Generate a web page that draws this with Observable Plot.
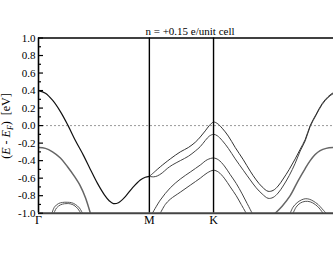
<!DOCTYPE html>
<html><head><meta charset="utf-8">
<script src="https://cdn.jsdelivr.net/npm/d3@7"></script>
<script src="https://cdn.jsdelivr.net/npm/@observablehq/plot@0.6"></script>
<style>body{margin:0;background:#fff}</style>
</head><body><div id="chart"></div>
<script>
// k-path positions (2π/a units): Γ, M, K, Γ
const kTicks = [0, 0.577, 0.911, 1.577];
const kLabels = ["Γ", "M", "K"];   // the closing Γ lies outside the visible window
const yTicks = [-1.0, -0.8, -0.6, -0.4, -0.2, 0.0, 0.2, 0.4, 0.6, 0.8, 1.0];
const yMinor = [-0.9, -0.7, -0.5, -0.3, -0.1, 0.1, 0.3, 0.5, 0.7, 0.9];
const title = "n = +0.15 e/unit cell";

// bands as [k, E-EF]
const bandT1 = [[0,0.40],[0.036,0.37],[0.073,0.29],[0.114,0.16],[0.154,0.0],[0.192,-0.17],[0.234,-0.34],[0.270,-0.50],[0.307,-0.66],[0.343,-0.79],[0.369,-0.86],[0.390,-0.89],[0.416,-0.88],[0.452,-0.81],[0.489,-0.71],[0.530,-0.62],[0.556,-0.59],[0.577,-0.58]];
const bandT2 = [[0,-0.25],[0.036,-0.26],[0.073,-0.30],[0.114,-0.37],[0.151,-0.47],[0.187,-0.58],[0.218,-0.69],[0.244,-0.82],[0.270,-1.0]];
const archL1 = [[0.070,-1.0],[0.083,-0.93],[0.104,-0.89],[0.125,-0.877],[0.149,-0.875],[0.172,-0.88],[0.192,-0.90],[0.213,-0.94],[0.229,-1.0]];
const archL2 = [[0.080,-1.0],[0.094,-0.94],[0.114,-0.905],[0.135,-0.892],[0.149,-0.89],[0.165,-0.893],[0.185,-0.91],[0.205,-0.95],[0.220,-1.0]];
const bandU1 = [[0.577,-0.58],[0.608,-0.52],[0.634,-0.47],[0.686,-0.38],[0.738,-0.30],[0.780,-0.25],[0.816,-0.19],[0.842,-0.13],[0.868,-0.06],[0.889,0.0],[0.911,0.04],[0.930,0.025],[0.956,-0.03],[0.988,-0.12],[1.024,-0.25],[1.066,-0.39],[1.102,-0.52],[1.133,-0.62],[1.164,-0.70],[1.195,-0.75],[1.221,-0.74],[1.247,-0.69],[1.273,-0.61],[1.305,-0.50],[1.336,-0.38],[1.362,-0.27],[1.388,-0.16],[1.414,0.0],[1.445,0.13],[1.476,0.25],[1.507,0.33],[1.538,0.38],[1.577,0.40]];
const bandU2 = [[0.577,-0.58],[0.598,-0.585],[0.618,-0.575],[0.644,-0.54],[0.670,-0.49],[0.696,-0.45],[0.738,-0.40],[0.780,-0.35],[0.816,-0.29],[0.842,-0.24],[0.868,-0.17],[0.889,-0.12],[0.911,-0.10],[0.930,-0.115],[0.956,-0.17],[0.988,-0.26],[1.024,-0.38],[1.066,-0.51],[1.102,-0.62],[1.133,-0.71],[1.164,-0.78],[1.195,-0.83],[1.221,-0.82],[1.247,-0.77],[1.273,-0.69],[1.305,-0.57],[1.336,-0.43],[1.362,-0.29],[1.388,-0.175],[1.414,-0.01],[1.445,0.12],[1.476,0.24],[1.507,0.32],[1.538,0.37],[1.577,0.395]];
const bandL1 = [[0.593,-1.0],[0.634,-0.85],[0.686,-0.71],[0.738,-0.61],[0.790,-0.53],[0.842,-0.45],[0.878,-0.39],[0.911,-0.37],[0.936,-0.39],[0.967,-0.46],[0.998,-0.56],[1.029,-0.66],[1.060,-0.78],[1.086,-0.89],[1.112,-1.0]];
const bandL2 = [[0.634,-1.0],[0.660,-0.90],[0.686,-0.84],[0.738,-0.76],[0.790,-0.68],[0.842,-0.60],[0.878,-0.54],[0.911,-0.51],[0.936,-0.53],[0.967,-0.60],[0.998,-0.70],[1.029,-0.80],[1.055,-0.90],[1.081,-1.0]];
const bandR = [[1.232,-1.0],[1.268,-0.92],[1.310,-0.80],[1.351,-0.63],[1.388,-0.49],[1.414,-0.40],[1.440,-0.33],[1.466,-0.285],[1.497,-0.26],[1.533,-0.25],[1.577,-0.25]];
const archR1 = [[1.310,-1.0],[1.325,-0.93],[1.346,-0.88],[1.367,-0.85],[1.388,-0.835],[1.409,-0.84],[1.429,-0.86],[1.455,-0.90],[1.476,-0.95],[1.497,-1.0]];
const archR2 = [[1.325,-1.0],[1.341,-0.93],[1.362,-0.885],[1.388,-0.865],[1.414,-0.87],[1.440,-0.90],[1.460,-0.94],[1.481,-1.0]];

const W = 333, H = 258, mL = 38, mT = 37.5, mB = 45.3, mR = 0;
const frameW = W - mL - mR;
const px = {x: d => d[0], y: d => d[1], curve: "catmull-rom", clip: true};

const chart = Plot.plot({
  width: W, height: H,
  marginLeft: mL, marginTop: mT, marginBottom: mB, marginRight: mR,
  x: {domain: [kTicks[0], kTicks[3]], range: [mL, 341], axis: null},
  y: {domain: [-1, 1], ticks: yTicks, tickFormat: d => d.toFixed(1), tickSize: 0, tickPadding: 3, label: null},
  style: {fontFamily: "Liberation Serif", fontSize: "11px", background: "white", color: "black"},
  marks: [
    Plot.ruleY([0], {stroke: "#999", strokeDasharray: "2,2", strokeWidth: 1}),
    Plot.line(bandT2, {...px, stroke: "#666", strokeWidth: 1.5}),
    Plot.line(archL1, {...px, stroke: "#555", strokeWidth: 1}),
    Plot.line(archL2, {...px, stroke: "#555", strokeWidth: 1}),
    Plot.line(bandR, {...px, stroke: "#666", strokeWidth: 1.5}),
    Plot.line(archR1, {...px, stroke: "#555", strokeWidth: 1}),
    Plot.line(archR2, {...px, stroke: "#555", strokeWidth: 1}),
    Plot.line(bandL1, {...px, stroke: "#444", strokeWidth: 1}),
    Plot.line(bandL2, {...px, stroke: "#444", strokeWidth: 1}),
    Plot.line(bandU2, {...px, stroke: "#444", strokeWidth: 1}),
    Plot.line(bandU1, {...px, stroke: "#333", strokeWidth: 1}),
    Plot.line(bandT1, {...px, stroke: "#111", strokeWidth: 1.2}),
    Plot.ruleX([kTicks[1], kTicks[2]], {stroke: "black", strokeWidth: 1.4}),
    Plot.ruleX([kTicks[0]], {stroke: "black", strokeWidth: 1.6}),
    Plot.ruleY([1], {stroke: "black", strokeWidth: 1.6}),
    Plot.ruleY([-1], {stroke: "#444", strokeWidth: 2}),
    Plot.tickY(yTicks, {y: d => d, insetRight: frameW - 5, stroke: "black", strokeWidth: 1.2}),
    Plot.tickY(yMinor, {y: d => d, insetRight: frameW - 3, stroke: "black", strokeWidth: 1.2}),
    Plot.text(kLabels, {x: (d, i) => kTicks[i], text: d => d, frameAnchor: "bottom", lineAnchor: "top", dy: 2, fontSize: 12}),
    Plot.text([title], {x: () => (kTicks[0] + kTicks[3]) / 2, text: d => d, frameAnchor: "top", lineAnchor: "bottom", dy: -3, fontSize: 11})
  ]
});
document.getElementById("chart").appendChild(chart);

// y-axis label with italic E and subscript F
const svg = d3.select(chart);
const lab = svg.append("text")
  .attr("transform", "translate(10,126) rotate(-90)")
  .attr("text-anchor", "middle")
  .attr("font-family", "Liberation Serif")
  .attr("font-size", 12)
  .attr("fill", "black");
lab.append("tspan").text("(");
lab.append("tspan").attr("font-style", "italic").text("E");
lab.append("tspan").text(" - ");
lab.append("tspan").attr("font-style", "italic").text("E");
lab.append("tspan").attr("font-style", "italic").attr("font-size", 8).attr("dy", 3).text("F");
lab.append("tspan").attr("dy", -3).text(")\u00a0\u00a0[eV]");
</script></body></html>
